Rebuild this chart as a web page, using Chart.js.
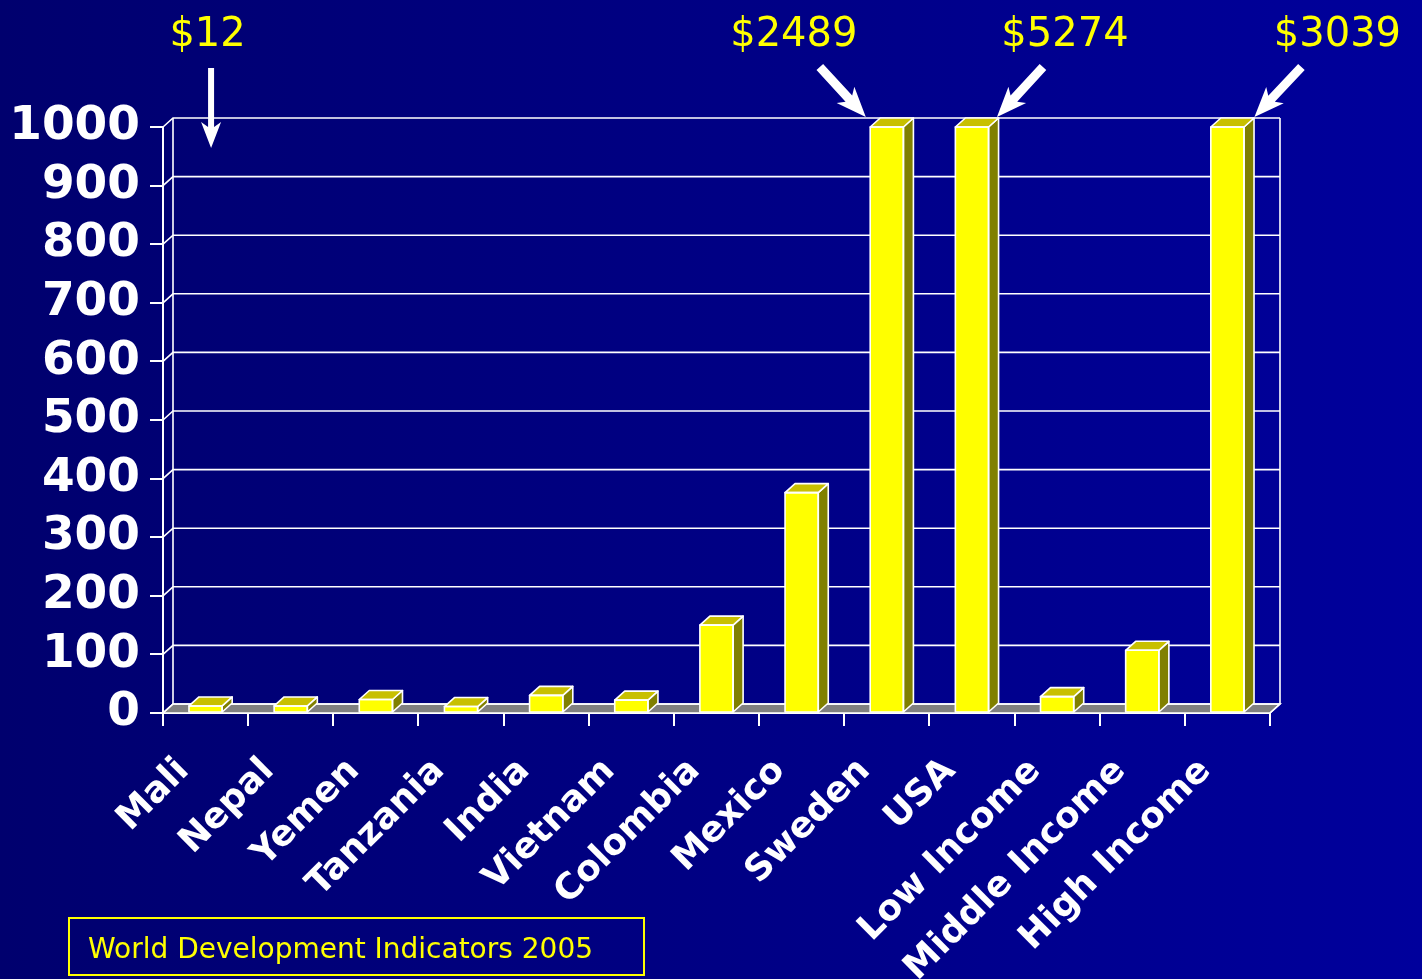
<!DOCTYPE html>
<html>
<head>
<meta charset="utf-8">
<title>Health spending per capita</title>
<script src="https://cdn.jsdelivr.net/npm/chart.js@4.4.1/dist/chart.umd.min.js"></script>
<style>
  html, body { margin: 0; padding: 0; }
  body {
    width: 1422px; height: 979px; overflow: hidden;
    background: linear-gradient(to right, #00006e 0%, #000086 55%, #00009c 100%);
  }
  canvas { display: block; }
</style>
</head>
<body>
<canvas id="chart" width="1422" height="979"></canvas>
<script>
// ---- data ----
const categories = ['Mali', 'Nepal', 'Yemen', 'Tanzania', 'India', 'Vietnam', 'Colombia',
                    'Mexico', 'Sweden', 'USA', 'Low Income', 'Middle Income', 'High Income'];
const spending = [12, 12, 23, 11, 30, 22, 150, 376, 2489, 5274, 28, 107, 3039];
const yTicks = [0, 100, 200, 300, 400, 500, 600, 700, 800, 900, 1000];
const calloutIndices = [0, 8, 9, 12];
const sourceNote = 'World Development Indicators 2005';

// ---- look ----
const DEPTH_X = 10, DEPTH_Y = -9;
const YELLOW = '#ffff00', TOP_FACE = '#c8c000', SIDE_FACE = '#808000', FLOOR = '#808080';

// callout placement relative to the bar centre (text x, arrow tail, arrow tip)
const calloutLayout = {
  0:  { textDx: 2,   tail: [5.5, 68],  tip: [5.5, 148] },
  8:  { textDx: -93, tail: [-67, 67],  tip: [-21, 117] },
  9:  { textDx: 93,  tail: [71, 67],   tip: [25, 117] },
  12: { textDx: 110, tail: [74, 67],   tip: [27, 117] }
};

function poly(ctx, pts, fill) {
  ctx.beginPath();
  ctx.moveTo(pts[0][0], pts[0][1]);
  for (let i = 1; i < pts.length; i++) ctx.lineTo(pts[i][0], pts[i][1]);
  ctx.closePath();
  ctx.fillStyle = fill;
  ctx.fill();
  ctx.stroke();
}

function arrow(ctx, x1, y1, x2, y2, shaft, headW, headL) {
  const ang = Math.atan2(y2 - y1, x2 - x1);
  const len = Math.hypot(x2 - x1, y2 - y1);
  ctx.save();
  ctx.translate(x1, y1);
  ctx.rotate(ang);
  ctx.beginPath();
  ctx.moveTo(0, -shaft / 2);
  ctx.lineTo(len - headL + 5, -shaft / 2);
  ctx.lineTo(len - headL, -headW / 2);
  ctx.lineTo(len, 0);
  ctx.lineTo(len - headL, headW / 2);
  ctx.lineTo(len - headL + 5, shaft / 2);
  ctx.lineTo(0, shaft / 2);
  ctx.closePath();
  ctx.fillStyle = '#ffffff';
  ctx.fill();
  ctx.restore();
}

// back wall, floor and receding grid
const wallPlugin = {
  id: 'wall',
  beforeDatasetsDraw(chart) {
    const { ctx, chartArea: a, scales: { y } } = chart;
    const y0 = y.getPixelForValue(0);
    ctx.save();
    ctx.strokeStyle = '#ffffff';
    ctx.lineWidth = 1.6;
    poly(ctx, [[a.left, y0], [a.right, y0], [a.right + DEPTH_X, y0 + DEPTH_Y], [a.left + DEPTH_X, y0 + DEPTH_Y]], FLOOR);
    y.ticks.forEach(t => {
      const py = y.getPixelForValue(t.value);
      ctx.beginPath();
      ctx.moveTo(a.left, py);
      ctx.lineTo(a.left + DEPTH_X, py + DEPTH_Y);
      ctx.lineTo(a.right + DEPTH_X, py + DEPTH_Y);
      ctx.stroke();
    });
    ctx.beginPath();
    ctx.moveTo(a.left + DEPTH_X, a.top + DEPTH_Y);
    ctx.lineTo(a.left + DEPTH_X, y0 + DEPTH_Y);
    ctx.moveTo(a.right + DEPTH_X, a.top + DEPTH_Y);
    ctx.lineTo(a.right + DEPTH_X, y0 + DEPTH_Y);
    ctx.lineTo(a.right, y0);
    ctx.stroke();
    ctx.restore();
  },
  // top and side faces of each bar
  afterDatasetsDraw(chart) {
    const { ctx, chartArea: a } = chart;
    const meta = chart.getDatasetMeta(0);
    ctx.save();
    ctx.strokeStyle = '#ffffff';
    ctx.lineWidth = 1.6;
    ctx.lineJoin = 'round';
    meta.data.forEach(bar => {
      const p = bar.getProps(['x', 'y', 'base', 'width'], true);
      const top = Math.max(p.y, a.top);
      const l = p.x - p.width / 2, r = p.x + p.width / 2, b = p.base;
      poly(ctx, [[r, top], [r + DEPTH_X, top + DEPTH_Y], [r + DEPTH_X, b + DEPTH_Y], [r, b]], SIDE_FACE);
      poly(ctx, [[l, top], [l + DEPTH_X, top + DEPTH_Y], [r + DEPTH_X, top + DEPTH_Y], [r, top]], TOP_FACE);
      ctx.beginPath();
      ctx.rect(l, top, p.width, b - top);
      ctx.stroke();
    });
    ctx.restore();
  },
  // value callouts with arrows and the source box
  afterDraw(chart) {
    const { ctx, scales: { x } } = chart;
    ctx.save();
    ctx.font = '40px "DejaVu Sans"';
    ctx.textAlign = 'center';
    ctx.textBaseline = 'alphabetic';
    calloutIndices.forEach(i => {
      const cx = x.getPixelForValue(i);
      const L = calloutLayout[i];
      ctx.fillStyle = YELLOW;
      ctx.fillText('$' + spending[i], cx + L.textDx, 46);
      const vertical = L.tail[0] === L.tip[0];
      arrow(ctx, cx + L.tail[0], L.tail[1], cx + L.tip[0], L.tip[1],
            vertical ? 6 : 9, vertical ? 20 : 24, vertical ? 26 : 30);
    });
    ctx.strokeStyle = YELLOW;
    ctx.lineWidth = 2;
    ctx.strokeRect(69, 918, 575, 57);
    ctx.fillStyle = YELLOW;
    ctx.textAlign = 'left';
    ctx.font = '28px "DejaVu Sans"';
    ctx.fillText(sourceNote, 88, 958);
    ctx.restore();
  }
};

Chart.defaults.font.family = '"DejaVu Sans", Verdana, sans-serif';

new Chart(document.getElementById('chart'), {
  type: 'bar',
  data: {
    labels: categories,
    datasets: [{
      data: spending,
      backgroundColor: YELLOW,
      borderColor: '#ffffff',
      borderWidth: 0,
      barPercentage: 0.39,
      categoryPercentage: 1,
      clip: 0
    }]
  },
  options: {
    responsive: false,
    animation: false,
    devicePixelRatio: 1,
    layout: { padding: { top: 127, right: 152, left: 0, bottom: 0 } },
    plugins: { legend: { display: false }, tooltip: { enabled: false } },
    scales: {
      x: {
        afterFit: s => { s.height = 266; },
        grid: { drawOnChartArea: false, drawTicks: true, tickLength: 13, color: '#ffffff', lineWidth: 2, offset: true },
        border: { display: true, color: '#ffffff', width: 2 },
        ticks: {
          color: '#ffffff',
          font: { size: 36, weight: 'bold' },
          minRotation: 45, maxRotation: 45,
          autoSkip: false,
          padding: 24,
          labelOffset: -22
        }
      },
      y: {
        min: 0, max: 1000,
        afterFit: s => { s.width = 163; },
        afterBuildTicks: s => { s.ticks = yTicks.map(v => ({ value: v })); },
        grid: { drawOnChartArea: false, drawTicks: true, tickLength: 13, color: '#ffffff', lineWidth: 2 },
        border: { display: true, color: '#ffffff', width: 2 },
        ticks: {
          color: '#ffffff',
          font: { size: 47, weight: 'bold' },
          padding: 10,
          autoSkip: false,
          callback: v => String(v)
        }
      }
    }
  },
  plugins: [wallPlugin]
});
</script>
</body>
</html>
